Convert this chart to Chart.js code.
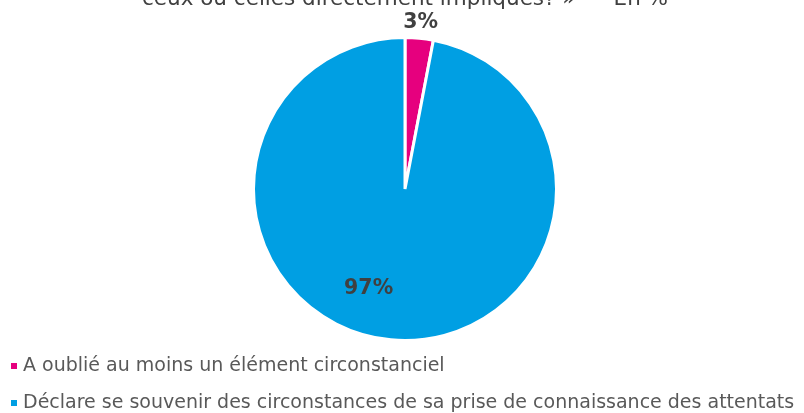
<!DOCTYPE html>
<html>
<head>
<meta charset="utf-8">
<script src="https://cdn.jsdelivr.net/npm/chart.js@4/dist/chart.umd.min.js"></script>
<style>
html,body{margin:0;padding:0;background:#fff;}
#wrap{position:relative;width:804px;height:413px;}
</style>
</head>
<body>
<div id="wrap"><canvas id="c" width="804" height="413"></canvas></div>
<script>
const titleText = "ceux ou celles directement impliqués? »   – En %";
const categories = [
  "A oublié au moins un élément circonstanciel",
  "Déclare se souvenir des circonstances de sa prise de connaissance des attentats"
];
const values = [3, 97];
const valueLabels = ["3%", "97%"];
const colors = ["#E6007E", "#009FE3"];

const FAMILY = "'DejaVu Sans', Verdana, sans-serif";

function fitSize(ctx, text, weight, targetW) {
  ctx.font = weight + " 20px " + FAMILY;
  const w = ctx.measureText(text).width;
  return 20 * targetW / w;
}

const labelPlugin = {
  id: 'customLabels',
  afterDatasetsDraw(chart) {
    const ctx = chart.ctx;
    const meta = chart.getDatasetMeta(0);
    ctx.save();
    const sz = fitSize(ctx, "97%", "bold", 49);
    ctx.font = "bold " + sz.toFixed(1) + "px " + FAMILY;
    ctx.fillStyle = "#404040";
    ctx.textAlign = "center";
    ctx.textBaseline = "middle";
    meta.data.forEach((arc, i) => {
      const p = arc.getProps(['x','y','startAngle','endAngle','outerRadius'], true);
      const mid = (p.startAngle + p.endAngle) / 2;
      let x, y;
      if (i === 0) {
        const r = p.outerRadius * 1.105;
        x = p.x + Math.cos(mid) * r;
        y = p.y + Math.sin(mid) * r;
      } else {
        x = p.x - 0.24 * p.outerRadius;
        y = p.y + 0.66 * p.outerRadius;
      }
      ctx.fillText(valueLabels[i], x, y);
    });
    ctx.restore();
  },
  afterDraw(chart) {
    const ctx = chart.ctx;
    ctx.save();
    const tsz = fitSize(ctx, titleText, "normal", 525);
    ctx.font = tsz.toFixed(1) + "px " + FAMILY;
    ctx.fillStyle = "#404040";
    ctx.textAlign = "center";
    ctx.textBaseline = "alphabetic";
    ctx.fillText(titleText, 405, 5);
    const lsz = fitSize(ctx, categories[1], "normal", 772);
    ctx.font = lsz.toFixed(1) + "px " + FAMILY;
    ctx.textAlign = "left";
    ctx.textBaseline = "middle";
    const rowsY = [366, 403];
    categories.forEach((c, i) => {
      ctx.fillStyle = colors[i];
      ctx.fillRect(11, rowsY[i] - 3, 6, 6);
      ctx.fillStyle = "#595959";
      ctx.fillText(c, 23, rowsY[i]);
    });
    ctx.restore();
  }
};

new Chart(document.getElementById('c'), {
  type: 'pie',
  data: {
    labels: categories,
    datasets: [{
      data: values,
      backgroundColor: colors,
      borderColor: '#ffffff',
      borderWidth: 3
    }]
  },
  options: {
    responsive: false,
    animation: false,
    layout: { padding: { top: 36, bottom: 71, left: 6, right: 0 } },
    plugins: {
      legend: { display: false },
      tooltip: { enabled: false },
      title: { display: false }
    }
  },
  plugins: [labelPlugin]
});
</script>
</body>
</html>
